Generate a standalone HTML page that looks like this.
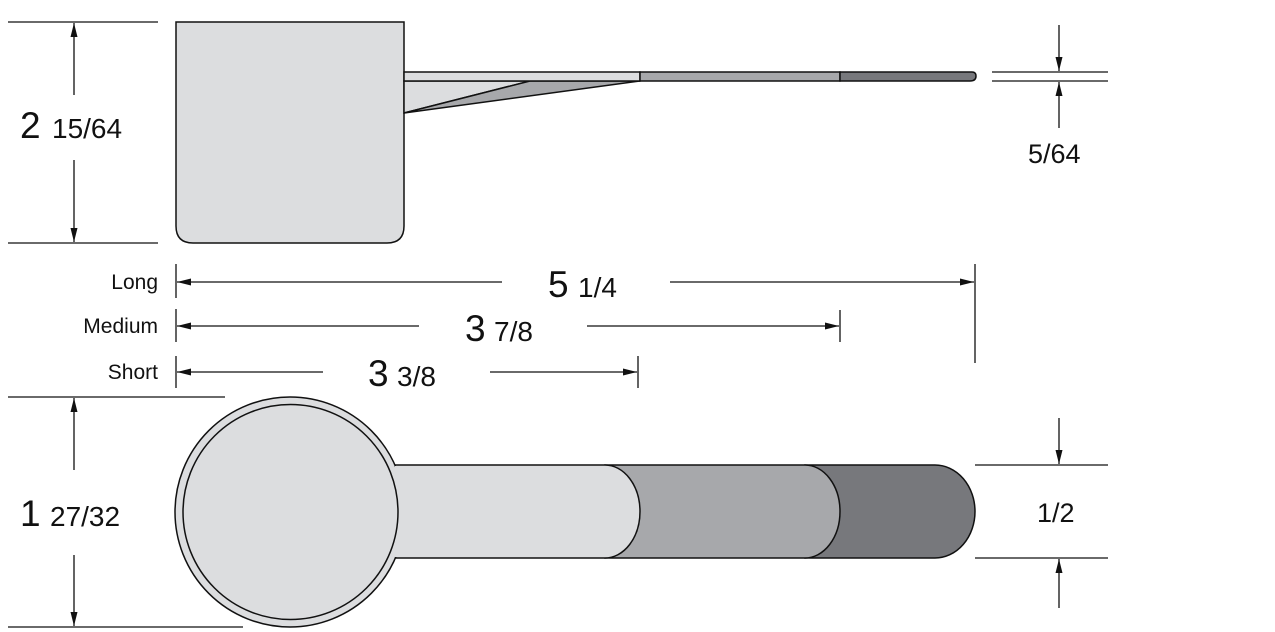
<!DOCTYPE html>
<html><head><meta charset="utf-8"><style>
html,body{margin:0;padding:0;background:#fff;}
svg{display:block;}
text{font-family:"Liberation Sans",sans-serif;fill:#111;}
</style></head><body>
<svg width="1275" height="632" viewBox="0 0 1275 632" xmlns="http://www.w3.org/2000/svg">
<defs>
<marker id="a" viewBox="0 0 14 8" refX="14" refY="4" markerWidth="14" markerHeight="8" markerUnits="userSpaceOnUse" orient="auto-start-reverse"><path d="M0,0.5 L14,4 L0,7.5 z" fill="#111"/></marker>
</defs>
<g stroke="#111" stroke-width="1.5" fill="none">
<path d="M176,22 H404 V226 Q404,243 387,243 H193 Q176,243 176,226 Z" fill="#dcdddf"/>
<path d="M404,81 L530,81 L404,113 Z" fill="#dcdddf"/>
<path d="M530,81 L640,81 L404,113 Z" fill="#a7a8ab"/>
<path d="M404,72 H640 V81 H404 Z" fill="#dcdddf"/>
<path d="M640,72 H840 V81 H640 Z" fill="#a7a8ab"/>
<path d="M840,72 H972 Q976,72 976,76 Q976,81 970,81 H840 Z" fill="#77787c"/>
<!-- bottom view -->
<path d="M805,465 H935 A40,46.5 0 0 1 935,558 H805 Z" fill="#77787c"/>
<path d="M605,465 H805 A35,46.5 0 0 1 805,558 H605 Z" fill="#a7a8ab"/>
<path d="M395,465 H605 A35,46.5 0 0 1 605,558 H395 Z" fill="#dcdddf"/>
<circle cx="290" cy="512" r="115" fill="#dcdddf"/>
<rect x="395" y="466" width="14" height="91" fill="#dcdddf" stroke="none"/>
<circle cx="290.5" cy="512" r="107.5" fill="#dcdddf"/>
</g>
<g stroke="#111" stroke-width="1.3" fill="none">
<line x1="8" y1="22" x2="158" y2="22"/><line x1="8" y1="243" x2="158" y2="243"/>
<line x1="74" y1="95" x2="74" y2="23" marker-end="url(#a)"/>
<line x1="74" y1="160" x2="74" y2="242" marker-end="url(#a)"/>
<line x1="992" y1="72" x2="1108" y2="72"/><line x1="992" y1="81" x2="1108" y2="81"/>
<line x1="1059" y1="25" x2="1059" y2="71" marker-end="url(#a)"/>
<line x1="1059" y1="128" x2="1059" y2="82" marker-end="url(#a)"/>
<line x1="176" y1="264" x2="176" y2="298"/>
<line x1="176" y1="309" x2="176" y2="342"/>
<line x1="176" y1="356" x2="176" y2="388"/>
<line x1="975" y1="264" x2="975" y2="363"/>
<line x1="840" y1="310" x2="840" y2="342"/>
<line x1="638" y1="356" x2="638" y2="388"/>
<line x1="502" y1="282" x2="177" y2="282" marker-end="url(#a)"/>
<line x1="670" y1="282" x2="974" y2="282" marker-end="url(#a)"/>
<line x1="419" y1="326" x2="177" y2="326" marker-end="url(#a)"/>
<line x1="587" y1="326" x2="839" y2="326" marker-end="url(#a)"/>
<line x1="323" y1="372" x2="177" y2="372" marker-end="url(#a)"/>
<line x1="490" y1="372" x2="637" y2="372" marker-end="url(#a)"/>
<line x1="8" y1="397" x2="225" y2="397"/><line x1="8" y1="627" x2="243" y2="627"/>
<line x1="74" y1="470" x2="74" y2="398" marker-end="url(#a)"/>
<line x1="74" y1="555" x2="74" y2="626" marker-end="url(#a)"/>
<line x1="975" y1="465" x2="1108" y2="465"/><line x1="975" y1="558" x2="1108" y2="558"/>
<line x1="1059" y1="418" x2="1059" y2="464" marker-end="url(#a)"/>
<line x1="1059" y1="608" x2="1059" y2="559" marker-end="url(#a)"/>
</g>
<text x="20" y="138" font-size="37">2</text><text x="52" y="138" font-size="28">15/64</text>
<text x="1028" y="163" font-size="27">5/64</text>
<text x="158" y="289" font-size="21" text-anchor="end">Long</text>
<text x="158" y="333" font-size="21" text-anchor="end">Medium</text>
<text x="158" y="379" font-size="21" text-anchor="end">Short</text>
<text x="548" y="297" font-size="37">5</text><text x="578" y="297" font-size="28">1/4</text>
<text x="465" y="341" font-size="37">3</text><text x="494" y="341" font-size="28">7/8</text>
<text x="368" y="386" font-size="37">3</text><text x="397" y="386" font-size="28">3/8</text>
<text x="20" y="526" font-size="37">1</text><text x="50" y="526" font-size="28">27/32</text>
<text x="1037" y="522" font-size="27">1/2</text>
</svg>
</body></html>
